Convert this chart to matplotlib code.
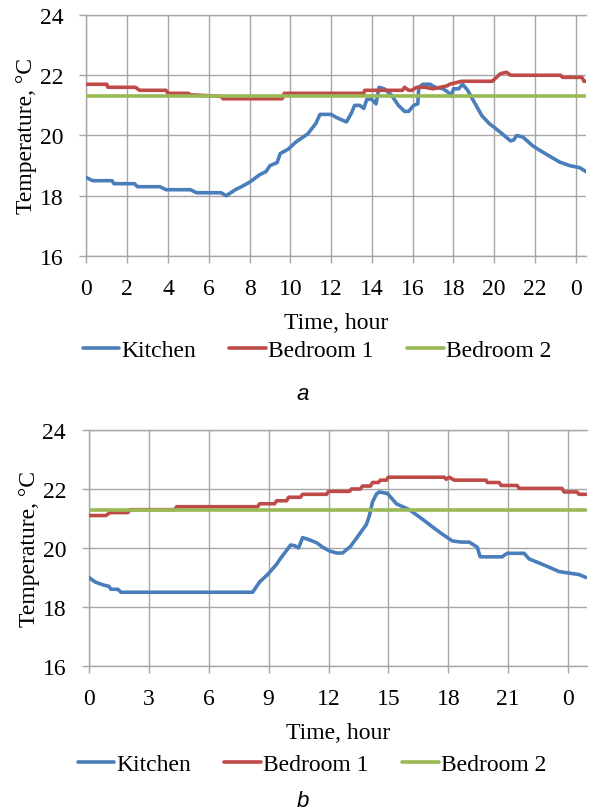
import matplotlib
matplotlib.use("Agg")
import matplotlib.pyplot as plt

SERIF = ["Liberation Serif", "DejaVu Serif"]
plt.rcParams["font.family"] = SERIF

# ---- panel a: readings per hour (hour of day, temperature degC) ----
kitchen_a_t = [0.0, 0.3, 1.25, 1.35, 2.35, 2.5, 3.6, 3.9, 5.1, 5.4, 6.6, 6.85, 7.3, 7.6, 8.0,
               8.5, 8.8, 9.0, 9.35, 9.5, 9.9, 10.3, 10.85, 11.25, 11.45, 12.0, 12.25, 12.75,
               13.0, 13.15, 13.4, 13.6, 13.75, 14.0, 14.2, 14.35, 14.6, 14.95, 15.3, 15.6,
               15.8, 16.05, 16.25, 16.3, 16.5, 16.85, 17.1, 17.5, 17.8, 17.9, 18.0, 18.25,
               18.45, 18.7, 18.9, 19.15, 19.4, 19.75, 20.0, 20.4, 20.8, 20.95, 21.1, 21.4,
               21.9, 22.3, 22.7, 23.2, 23.7, 24.2, 24.5]
kitchen_a_v = [18.6, 18.5, 18.5, 18.4, 18.4, 18.3, 18.3, 18.2, 18.2, 18.1, 18.1, 18.0, 18.2, 18.3, 18.45,
               18.7, 18.8, 19.0, 19.1, 19.4, 19.55, 19.8, 20.05, 20.4, 20.7, 20.7, 20.6, 20.45,
               20.75, 21.0, 21.0, 20.9, 21.2, 21.2, 21.05, 21.6, 21.55, 21.35, 21.0, 20.8,
               20.8, 21.0, 21.05, 21.6, 21.7, 21.7, 21.6, 21.55, 21.4, 21.3, 21.55, 21.55,
               21.7, 21.5, 21.25, 20.95, 20.65, 20.4, 20.27, 20.05, 19.82, 19.85, 20.0, 19.95,
               19.65, 19.48, 19.32, 19.12, 19.0, 18.93, 18.8]

bed1_a_t = [0.0, 1.0, 1.05, 2.4, 2.6, 3.9, 4.0, 5.0, 5.1, 6.6, 6.7, 9.6, 9.7, 13.6, 13.65,
            15.5, 15.6, 15.8, 15.95, 16.2, 16.6, 17.0, 17.7, 17.8, 18.4, 19.9, 20.3, 20.6,
            20.8, 23.25, 23.35, 24.3, 24.4, 24.5]
bed1_a_v = [21.7, 21.7, 21.6, 21.6, 21.5, 21.5, 21.4, 21.4, 21.35, 21.3, 21.22, 21.22, 21.4, 21.4, 21.5,
            21.5, 21.6, 21.5, 21.5, 21.6, 21.6, 21.55, 21.65, 21.7, 21.8, 21.8, 22.05, 22.1,
            22.0, 22.0, 21.93, 21.93, 21.8, 21.8]

bed2_a_t = [0.0, 24.5]
bed2_a_v = [21.3, 21.3]

# ---- panel b ----
kitchen_b_t = [0.0, 0.3, 0.7, 1.0, 1.1, 1.45, 1.6, 8.2, 8.55, 8.95, 9.4, 9.6, 10.1, 10.3,
               10.5, 10.7, 10.95, 11.4, 11.7, 12.05, 12.4, 12.7, 13.1, 13.55, 13.9, 14.05,
               14.2, 14.4, 14.55, 14.95, 15.4, 15.65, 16.05, 16.7, 17.2, 17.7, 18.2, 18.65,
               19.05, 19.45, 19.6, 19.95, 20.7, 20.95, 21.8, 22.05, 22.45, 23.05, 23.55,
               24.05, 24.55, 24.9]
kitchen_b_v = [19.0, 18.85, 18.75, 18.7, 18.6, 18.6, 18.5, 18.5, 18.85, 19.1, 19.45, 19.65, 20.1, 20.08,
               20.0, 20.35, 20.3, 20.18, 20.03, 19.9, 19.83, 19.83, 20.05, 20.47, 20.8, 21.1,
               21.55, 21.83, 21.9, 21.85, 21.5, 21.42, 21.3, 20.98, 20.72, 20.47, 20.24, 20.2,
               20.2, 20.03, 19.7, 19.7, 19.7, 19.82, 19.82, 19.63, 19.52, 19.35, 19.2,
               19.15, 19.1, 19.0]

bed1_b_t = [0.0, 0.85, 1.05, 1.95, 2.05, 4.3, 4.4, 8.45, 8.55, 9.3, 9.4, 9.9, 10.0, 10.6,
            10.7, 11.9, 12.0, 13.05, 13.15, 13.6, 13.7, 14.1, 14.2, 14.5, 14.6, 14.9, 15.0,
            17.8, 17.9, 18.05, 18.3, 19.9, 19.95, 20.55, 20.65, 21.45, 21.55, 23.7, 23.8,
            24.45, 24.55, 24.9]
bed1_b_v = [21.1, 21.1, 21.2, 21.2, 21.3, 21.3, 21.4, 21.4, 21.5, 21.5, 21.6, 21.6, 21.72, 21.72,
            21.82, 21.82, 21.92, 21.92, 22.0, 22.0, 22.1, 22.1, 22.22, 22.22, 22.3, 22.3, 22.4,
            22.4, 22.33, 22.4, 22.3, 22.3, 22.22, 22.22, 22.12, 22.12, 22.02, 22.02, 21.9,
            21.9, 21.82, 21.82]

bed2_b_t = [0.0, 24.9]
bed2_b_v = [21.3, 21.3]

series_names = ["Kitchen", "Bedroom 1", "Bedroom 2"]
colors = ["#4a7ebb", "#be4b48", "#98b954"]

yticks = [16, 18, 20, 22, 24]
ticks_a = list(range(0, 25, 2))
ticklabels_a = [str(h % 24) for h in ticks_a]
ticks_b = list(range(0, 25, 3))
ticklabels_b = [str(h % 24) for h in ticks_b]

GRID = "#a6a6a6"
FS = 17

fig = plt.figure(figsize=(5.9, 8.12), dpi=100)


def draw_panel(rect, series, xmax, ticks, ticklabels, legend_xy, letter_xy, letter):
    ax = fig.add_axes(rect)
    for (t, v), name, c in zip(series, series_names, colors):
        ax.plot(t, v, color=c, linewidth=2.6, label=name, solid_capstyle="round", zorder=3)
    ax.set_xlim(0, xmax)
    ax.set_ylim(16, 24)
    ax.set_yticks(yticks)
    ax.set_yticklabels([str(v) for v in yticks], fontfamily=SERIF, fontsize=FS)
    ax.set_xticks(ticks)
    ax.set_xticklabels(ticklabels, fontfamily=SERIF, fontsize=FS)
    ax.grid(True, color=GRID, linewidth=1.0, zorder=0)
    for side in ["left", "bottom", "top"]:
        ax.spines[side].set_color(GRID)
        ax.spines[side].set_linewidth(1.0)
    ax.spines["right"].set_visible(False)
    ax.tick_params(axis="both", colors=GRID, length=5, width=1.0, labelcolor="black")
    ax.tick_params(axis="x", pad=11)
    ax.tick_params(axis="y", pad=11.5)
    ax.set_xlabel("Time, hour", fontsize=FS, labelpad=9)
    ax.set_ylabel("Temperature, \u00b0C", fontsize=FS, labelpad=2)
    fig.legend(loc="center", bbox_to_anchor=legend_xy, ncol=3, frameon=False,
               fontsize=FS, handlelength=1.55, handletextpad=0.1, columnspacing=1.4,
               handles=ax.get_lines())
    fig.text(letter_xy[0], letter_xy[1], letter, fontsize=16, style="italic",
             family=["Liberation Sans", "DejaVu Sans"], ha="center", va="center")
    return ax


draw_panel([0.1466, 0.6835, 0.8466, 0.2968],
           [(kitchen_a_t, kitchen_a_v), (bed1_a_t, bed1_a_v), (bed2_a_t, bed2_a_v)],
           24.5, ticks_a, ticklabels_a,
           (317 / 590, 1 - 351 / 812), (303 / 590, 1 - 395 / 812), "a")
draw_panel([0.1508, 0.1786, 0.8441, 0.2906],
           [(kitchen_b_t, kitchen_b_v), (bed1_b_t, bed1_b_v), (bed2_b_t, bed2_b_v)],
           24.95, ticks_b, ticklabels_b,
           (312 / 590, 1 - 765 / 812), (303 / 590, 1 - 802 / 812), "b")

fig.savefig("out.png", dpi=100)
